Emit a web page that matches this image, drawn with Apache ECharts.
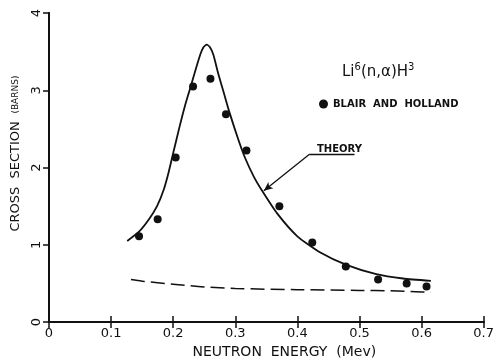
<!DOCTYPE html>
<html>
<head>
<meta charset="utf-8">
<script src="https://cdn.jsdelivr.net/npm/echarts@6/dist/echarts.min.js"></script>
<style>
  html, body { margin: 0; padding: 0; background: #fff; }
  #chart { width: 497px; height: 364px; }
</style>
</head>
<body>
<div id="chart"></div>
<script>
// measured points (Blair and Holland)
var blairX = [0.145, 0.175, 0.204, 0.232, 0.260, 0.285, 0.318, 0.371, 0.424, 0.478, 0.530, 0.576, 0.608];
var blairY = [1.11, 1.33, 2.13, 3.05, 3.15, 2.69, 2.22, 1.50, 1.03, 0.72, 0.55, 0.50, 0.46];

// theory curve
var theoryX = [0.126, 0.145, 0.161, 0.174, 0.185, 0.193, 0.201, 0.210, 0.219, 0.2275, 0.2355, 0.2435, 0.249, 0.254, 0.259, 0.2647, 0.2727, 0.2807, 0.290, 0.305, 0.316, 0.330, 0.344, 0.368, 0.400, 0.437, 0.479, 0.527, 0.570, 0.615];
var theoryY = [1.05, 1.17, 1.33, 1.50, 1.72, 1.95, 2.22, 2.52, 2.80, 3.03, 3.25, 3.46, 3.56, 3.59, 3.56, 3.46, 3.21, 2.99, 2.73, 2.36, 2.12, 1.88, 1.69, 1.40, 1.11, 0.90, 0.74, 0.62, 0.564, 0.534];

// dashed lower curve
var dashX = [0.132, 0.150, 0.200, 0.250, 0.300, 0.400, 0.500, 0.550, 0.600, 0.615];
var dashY = [0.55, 0.53, 0.49, 0.455, 0.435, 0.42, 0.41, 0.405, 0.39, 0.385];

var xTicks = ['0', '0.1', '0.2', '0.3', '0.4', '0.5', '0.6', '0.7'];

function zip(xs, ys) {
    return xs.map(function (x, i) { return [x, ys[i]]; });
}

var font = 'DejaVu Sans';
var myChart = echarts.init(document.getElementById('chart'));

var option = {
    backgroundColor: '#fff',
    animation: false,
    textStyle: { fontFamily: font, color: '#111' },
    grid: { left: 49, right: 9, top: 13, bottom: 39 },
    legend: {
        left: 314, top: 94,
        itemWidth: 9, itemHeight: 9, itemGap: 4,
        data: [{ name: 'BLAIR  AND  HOLLAND', icon: 'circle' }],
        textStyle: { fontFamily: font, fontSize: 10, fontWeight: 'bold', color: '#111' }
    },
    xAxis: [{
        type: 'value', min: 0, max: 0.7, interval: 0.1,
        name: 'NEUTRON  ENERGY  (Mev)',
        nameLocation: 'middle', nameGap: 22,
        nameTextStyle: { fontSize: 14, color: '#111', padding: [0, 0, 0, 36] },
        axisLine: { lineStyle: { color: '#111', width: 2 } },
        axisTick: { inside: true, length: 6, lineStyle: { color: '#111', width: 1.5 } },
        axisLabel: {
            fontSize: 13, color: '#111', margin: 5,
            formatter: function (v) { return xTicks[Math.round(v * 10)]; }
        },
        splitLine: { show: false }
    }, {
        type: 'value', min: 0, max: 0.7, interval: 0.1, position: 'top',
        axisLine: { lineStyle: { color: '#111', width: 2 } },
        axisTick: { inside: true, length: 6, lineStyle: { color: '#111', width: 1.5 } },
        axisLabel: { show: false },
        splitLine: { show: false }
    }],
    yAxis: [{
        type: 'value', min: 0, max: 4, interval: 1,
        name: '{a|CROSS  SECTION}  {b|(BARNS)}',
        nameLocation: 'middle', nameGap: 26, nameRotate: 90,
        nameTextStyle: {
            padding: [0, 0, 0, 28],
            rich: {
                a: { fontSize: 13, color: '#111', fontFamily: font },
                b: { fontSize: 9, color: '#111', fontFamily: font }
            }
        },
        axisLine: { lineStyle: { color: '#111', width: 2 } },
        axisTick: { show: false },
        axisLabel: { fontSize: 13, color: '#111', rotate: 90, margin: 6 },
        splitLine: { show: false }
    }, {
        type: 'value', min: 0, max: 4, interval: 1, position: 'right',
        axisLine: { lineStyle: { color: '#111', width: 2 } },
        axisTick: { inside: true, length: 6, lineStyle: { color: '#111', width: 1.5 } },
        axisLabel: { show: false },
        splitLine: { show: false }
    }],
    graphic: [{
        type: 'text', left: 342, top: 62,
        style: {
            text: '{m|Li}{s|6}{m|(n,α)H}{s|3}',
            rich: {
                m: { fontSize: 15, fontFamily: font, fill: '#111' },
                s: { fontSize: 10, fontFamily: font, fill: '#111', verticalAlign: 'top', padding: [0, 0, 10, 0] }
            }
        }
    }, {
        type: 'text', left: 317, top: 144,
        style: { text: 'THEORY', fontSize: 10, fontWeight: 'bold', fontFamily: font, fill: '#111' }
    }],
    series: [{
        name: 'THEORY',
        type: 'line', smooth: 0.2, showSymbol: false,
        data: zip(theoryX, theoryY),
        lineStyle: { color: '#111', width: 1.8 },
        markLine: {
            silent: true, animation: false,
            symbol: ['none', 'arrow'], symbolSize: [6, 9],
            label: { show: false },
            lineStyle: { color: '#111', width: 1.3, type: 'solid' },
            data: [
                [{ coord: [0.492, 2.17], symbol: 'none' }, { coord: [0.419, 2.17], symbol: 'none' }],
                [{ coord: [0.419, 2.17], symbol: 'none' }, { coord: [0.346, 1.70] }]
            ]
        }
    }, {
        name: 'dashed',
        type: 'line', smooth: 0.3, showSymbol: false,
        data: zip(dashX, dashY),
        lineStyle: { color: '#111', width: 1.5, type: [14, 6] }
    }, {
        name: 'BLAIR  AND  HOLLAND',
        type: 'scatter', symbol: 'circle', symbolSize: 8,
        data: zip(blairX, blairY),
        itemStyle: { color: '#111', opacity: 1 }
    }]
};

myChart.setOption(option);
</script>
</body>
</html>
